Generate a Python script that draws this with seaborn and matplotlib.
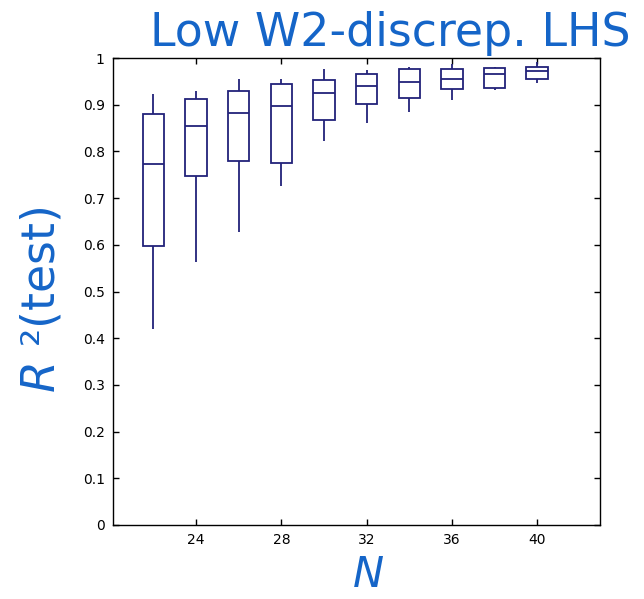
import numpy as np
import pandas as pd
import matplotlib
matplotlib.use("Agg")
import matplotlib.pyplot as plt
import seaborn as sns

# Sample sizes
N = [22, 24, 26, 28, 30, 32, 34, 36, 38, 40]
# Five-number summaries
whisker_low = [0.419, 0.564, 0.628, 0.726, 0.823, 0.860, 0.885, 0.910, 0.931, 0.947]
q1          = [0.597, 0.747, 0.780, 0.776, 0.868, 0.901, 0.915, 0.934, 0.936, 0.955]
median      = [0.773, 0.854, 0.882, 0.897, 0.925, 0.939, 0.949, 0.954, 0.966, 0.973]
q3          = [0.881, 0.912, 0.929, 0.945, 0.952, 0.966, 0.976, 0.976, 0.979, 0.981]
whisker_hi  = [0.922, 0.929, 0.955, 0.955, 0.976, 0.974, 0.980, 0.987, 0.981, 0.992]

x_ticks = [24, 28, 32, 36, 40]
y_ticks = [0, 0.1, 0.2, 0.3, 0.4, 0.5, 0.6, 0.7, 0.8, 0.9, 1]
y_tick_labels = ["0", "0.1", "0.2", "0.3", "0.4", "0.5", "0.6", "0.7", "0.8", "0.9", "1"]

title = "Low W2-discrep. LHS"

# With 5 points, linear percentiles give exactly q1/median/q3 and whis=inf gives min/max
rows = []
for i, n in enumerate(N):
    for v in (whisker_low[i], q1[i], median[i], q3[i], whisker_hi[i]):
        rows.append({"N": n, "R2": v})
df = pd.DataFrame(rows)

sns.set_style("white")
fig = plt.figure(figsize=(6.44, 5.99), dpi=100)
ax = fig.add_axes([113/644, 1-525/599, (600-113)/644, (525-58)/599])

navy = "#22227a"
sns.boxplot(data=df, x="N", y="R2", native_scale=True, width=0.5, whis=np.inf,
            color="white", linecolor=navy, linewidth=1.3, showcaps=False, ax=ax,
            medianprops=dict(color=navy, linewidth=1.3))

ax.set_xlim(20.1, 42.95)
ax.set_ylim(0, 1)
ax.set_xticks(x_ticks)
ax.set_xticklabels([str(t) for t in x_ticks])
ax.set_yticks(y_ticks)
ax.set_yticklabels(y_tick_labels)
ax.set_xlabel("")
ax.set_ylabel("")
ax.tick_params(direction="in", length=4, width=1, labelsize=10, colors="black",
               top=True, right=True, bottom=True, left=True, pad=6)
for s in ax.spines.values():
    s.set_visible(True)
    s.set_color("black")
    s.set_linewidth(1.0)

blue = "#1565c8"
fig.text(630/644, 1-46/599, title, ha="right", va="baseline", fontsize=33, color=blue,
         family="DejaVu Sans")
fig.text(42/644, 1-300/599, "$R$ ²(test)", rotation=90, ha="center", va="center",
         fontsize=33, color=blue)
fig.text(368/644, 1-596/599, "N", ha="center", va="bottom", fontsize=30, color=blue,
         style="italic")

fig.savefig("out.png", dpi=100, facecolor="white")
